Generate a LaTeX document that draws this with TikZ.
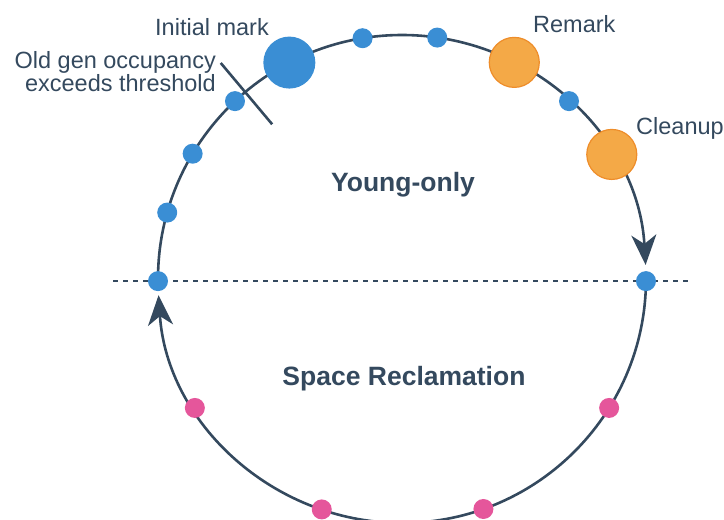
\documentclass[tikz,border=0pt]{standalone}
\usepackage{fontspec}
\setmainfont{Liberation Sans}
\usetikzlibrary{arrows.meta,calc}
\definecolor{ink}{HTML}{34495E}
\definecolor{dotblue}{HTML}{3A8ED4}
\definecolor{dotorange}{HTML}{F4A947}
\definecolor{orangeline}{HTML}{EE8D2A}
\definecolor{dotpink}{HTML}{E5569B}
\begin{document}
\begin{tikzpicture}[x=1pt,y=1pt,
  ring/.style={draw=ink, line width=2.6pt},
  bdot/.style={circle, fill=dotblue, inner sep=0, minimum size=20pt},
  bigblue/.style={circle, fill=dotblue, inner sep=0, minimum size=52pt},
  bigorange/.style={circle, fill=dotorange, draw=orangeline, line width=1.2pt, inner sep=0, minimum size=50pt},
  pdot/.style={circle, fill=dotpink, inner sep=0, minimum size=20pt},
  lab/.style={text=ink, font=\fontsize{23.5}{23}\selectfont, inner sep=0},
  ttl/.style={text=ink, font=\fontsize{26.5}{26.5}\selectfont\bfseries, inner sep=0},
  tipend/.style={-{Stealth[length=30pt,width=25pt,inset=9pt]}}
]
\useasboundingbox (0,0) rectangle (724,520);
\coordinate (c) at (402,241);
\coordinate (dl) at (113,239);
\coordinate (dr) at (690,239);
\draw[ink, line width=1.5pt, dash pattern=on 5pt off 5pt] (dl) -- (dr);
\draw[ring, tipend] (c) ++(180.5:244) arc[start angle=180.5, end angle=3.3, radius=244];
\draw[ring, tipend] (c) ++(-0.5:244) arc[start angle=-0.5, end angle=-176.2, radius=244];
\coordinate (t1) at ($(c)+(130:202)$);
\coordinate (t2) at ($(c)+(130:282)$);
\draw[ink, line width=2.6pt] (t1) -- (t2);
% dots
\node[bigblue] (init) at ($(c)+(117.5:244)$) {};
\node[bdot] (b1) at ($(c)+(99.3:244)$) {};
\node[bdot] (b2) at ($(c)+(81.7:244)$) {};
\node[bigorange] (remark) at ($(c)+(62.6:244)$) {};
\node[bdot] (b3) at ($(c)+(46.8:244)$) {};
\node[bigorange] (cleanup) at ($(c)+(30.7:244)$) {};
\node[bdot] (b4) at ($(c)+(133.2:244)$) {};
\node[bdot] (b5) at ($(c)+(149.1:244)$) {};
\node[bdot] (b6) at ($(c)+(164.2:244)$) {};
\node[bdot] (bl) at ($(c)+(180.5:244)$) {};
\node[bdot] (br) at ($(c)+(-0.5:244)$) {};
\node[pdot] (p1) at ($(c)+(211.9:244)$) {};
\node[pdot] (p2) at ($(c)+(-31.9:244)$) {};
\node[pdot] (p3) at ($(c)+(250.8:244)$) {};
\node[pdot] (p4) at ($(c)+(-70.5:244)$) {};
% labels
\node[lab, anchor=base east] (linit) at (269,484) {Initial mark};
\node[lab, anchor=north east, align=right] (lold) at (216,469) {Old gen occupancy\\exceeds threshold};
\node[lab, anchor=base west] (lremark) at (533,487) {Remark};
\node[lab, anchor=base west] (lclean) at (636,385) {Cleanup};
\node[ttl, anchor=base] (young) at (403,328) {Young-only};
\node[ttl, anchor=base] (space) at (404,134) {Space Reclamation};
\end{tikzpicture}
\end{document}
